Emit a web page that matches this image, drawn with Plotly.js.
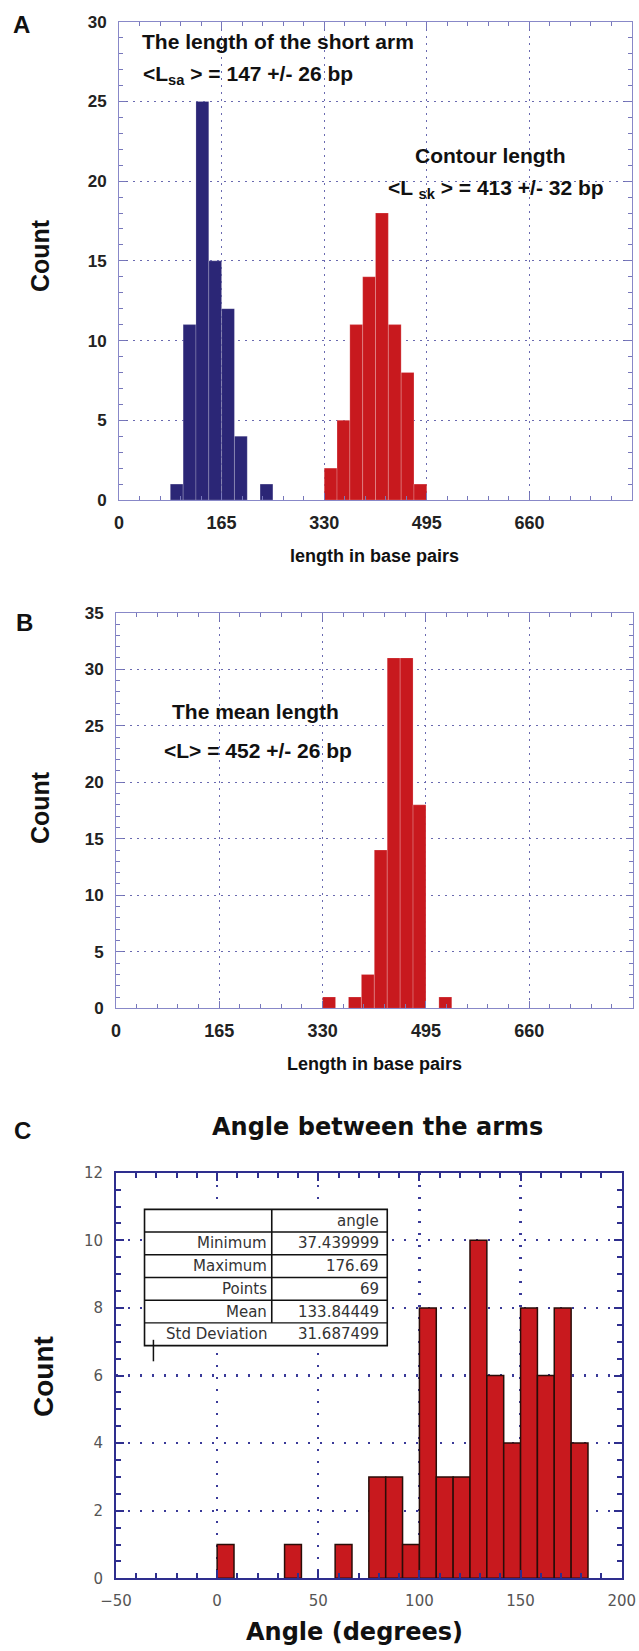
<!DOCTYPE html>
<html><head><meta charset="utf-8">
<script src="https://cdn.plot.ly/plotly-3.0.1.min.js"></script>
<style>html,body{margin:0;padding:0;background:#fff}#chart{width:639px;height:1651px}</style>
</head><body><div id="chart"></div>
<script>
// ---------- Panel A : arm lengths ----------
const binWidthLen = 20.625;
const shortArmBinStart = [82.5, 103.125, 123.75, 144.375, 165, 185.625, 226.875];
const shortArmCount    = [1, 11, 25, 15, 12, 4, 1];
const contourBinStart  = [330, 350.625, 371.25, 391.875, 412.5, 433.125, 453.75, 474.375];
const contourCount     = [2, 5, 11, 14, 18, 11, 8, 1];
// ---------- Panel B : mean length ----------
const meanLenBinStart  = [330, 371.25, 391.875, 412.5, 433.125, 453.75, 474.375, 515.625];
const meanLenCount     = [1, 1, 3, 14, 31, 31, 18, 1];
// ---------- Panel C : angle ----------
const binWidthAngle = 25 / 3;
const angleBinStart = [0, 33.333, 58.333, 75, 83.333, 91.667, 100, 108.333, 116.667, 125, 133.333, 141.667, 150, 158.333, 166.667, 175];
const angleCount    = [1, 1, 1, 3, 3, 1, 8, 3, 3, 10, 6, 4, 8, 6, 8, 4];
// ---------- ticks / table ----------
const lengthTicks = [0, 165, 330, 495, 660];
const countTicksA = [0, 5, 10, 15, 20, 25, 30];
const countTicksB = [0, 5, 10, 15, 20, 25, 30, 35];
const angleTicks  = [-50, 0, 50, 100, 150, 200];
const countTicksC = [0, 2, 4, 6, 8, 10, 12];
const statHeader = 'angle';
const statLabels = ['Minimum', 'Maximum', 'Points', 'Mean', 'Std Deviation'];
const statValues = ['37.439999', '176.69', '69', '133.84449', '31.687499'];

const W = 639, H = 1651;
const RED = '#c8191e', BLUE = '#2b2676';
const ARIAL = 'Liberation Sans, Arial, sans-serif';
const DJ = 'DejaVu Sans, Verdana, sans-serif';

const traces = [
  {type:'bar', x:shortArmBinStart, y:shortArmCount, width:binWidthLen, offset:0,
   marker:{color:BLUE, line:{color:'rgba(255,255,255,0.25)', width:0.8}}, xaxis:'x', yaxis:'y', name:'short arm'},
  {type:'bar', x:contourBinStart, y:contourCount, width:binWidthLen, offset:0,
   marker:{color:RED, line:{color:'rgba(255,255,255,0.25)', width:0.8}}, xaxis:'x', yaxis:'y', name:'contour'},
  {type:'bar', x:meanLenBinStart, y:meanLenCount, width:binWidthLen, offset:0,
   marker:{color:RED, line:{color:'rgba(255,255,255,0.25)', width:0.8}}, xaxis:'x2', yaxis:'y2', name:'mean length'},
  {type:'bar', x:angleBinStart, y:angleCount, width:binWidthAngle, offset:0,
   marker:{color:RED, line:{color:'#2a0d08', width:1.5}}, xaxis:'x3', yaxis:'y3', name:'angle'}
];

function lenAxisX(domain){
  return {domain:domain, range:[0,825], tickvals:lengthTicks, ticktext:lengthTicks.map(String),
    ticks:'inside', ticklen:7, tickwidth:1, tickcolor:'#7777bb',
    minor:{dtick:33, tick0:0, ticks:'inside', ticklen:4, tickcolor:'#7777bb', showgrid:false},
    showline:true, linecolor:'#8888c8', linewidth:1, mirror:'allticks',
    showgrid:true, gridcolor:'#6a6ab0', griddash:'2px,5px', gridwidth:1, zeroline:false,
    tickfont:{family:ARIAL, size:18, color:'#222', weight:'bold'}, ticklabelstandoff:6, fixedrange:true};
}
function countAxisY(domain, maxv, tv){
  return {domain:domain, range:[0,maxv], tickvals:tv,
    ticks:'inside', ticklen:7, tickwidth:1, tickcolor:'#7777bb',
    minor:{dtick:1, tick0:0, ticks:'inside', ticklen:4, tickcolor:'#7777bb', showgrid:false},
    showline:true, linecolor:'#8888c8', linewidth:1, mirror:'allticks',
    showgrid:true, gridcolor:'#6a6ab0', griddash:'2px,5px', gridwidth:1, zeroline:false,
    tickfont:{family:ARIAL, size:17, color:'#222', weight:'bold'}, ticklabelstandoff:8, fixedrange:true};
}

function P(x, y, extra){
  return Object.assign({x:x/W, y:1-y/H, xref:'paper', yref:'paper', showarrow:false,
    xanchor:'center', yanchor:'middle'}, extra);
}
const fb = (s, fam) => ({family:fam||ARIAL, size:s, color:'#111', weight:'bold'});

const annotations = [
  P(21, 25, {text:'A', font:fb(24)}),
  P(24, 622, {text:'B', font:fb(24)}),
  P(22, 1130, {text:'C', font:fb(24)}),
  P(278, 42, {text:'The length of the short arm', font:fb(21)}),
  P(141, 75, {text:'&lt;L<sub>sa</sub> &gt; = 147 +/- 26 bp', xanchor:'left', font:fb(21)}),
  P(490, 155, {text:'Contour length', font:fb(21)}),
  P(386, 189, {text:'&lt;L <sub>sk</sub> &gt; = 413 +/- 32 bp', xanchor:'left', font:fb(21)}),
  P(255, 711, {text:'The mean length', font:fb(21)}),
  P(258, 751, {text:'&lt;L&gt; = 452 +/- 26 bp', font:fb(21)}),
  P(40, 256, {text:'Count', textangle:-90, font:fb(25)}),
  P(40, 808, {text:'Count', textangle:-90, font:fb(25)}),
  P(43, 1377, {text:'Count', textangle:-90, font:fb(28)}),
  P(374, 556, {text:'length in base pairs', font:fb(18)}),
  P(374, 1064, {text:'Length in base pairs', font:fb(18)}),
  P(377, 1127, {text:'Angle between the arms', font:fb(24, DJ)}),
  P(354, 1632, {text:'Angle (degrees)', font:fb(24, DJ)})
];

// stats table inside panel C (axis-domain coordinates)
const tL = 0.0564, tR = 0.5364, tDiv = 0.308, tTop = 0.9097, rowH = 0.0560;
const shapes = [
  {type:'rect', xref:'x3 domain', yref:'y3 domain', x0:tL, x1:tR, y0:tTop-6*rowH, y1:tTop,
   fillcolor:'#fff', line:{color:'#111', width:1.6}},
  {type:'line', xref:'x3 domain', yref:'y3 domain', x0:tDiv, x1:tDiv, y0:tTop-5*rowH, y1:tTop,
   line:{color:'#111', width:1.6}},
  {type:'line', xref:'x3 domain', yref:'y3 domain', x0:0.074, x1:0.074, y0:0.535, y1:0.588,
   line:{color:'#111', width:1.5}}
];
for (let k = 1; k <= 5; k++) {
  shapes.push({type:'line', xref:'x3 domain', yref:'y3 domain', x0:tL, x1:tR,
    y0:tTop-k*rowH, y1:tTop-k*rowH, line:{color:'#111', width:1.4}});
}
const tf = {family:DJ, size:15, color:'#333'};
annotations.push({xref:'x3 domain', yref:'y3 domain', x:tR-0.012, y:tTop-0.5*rowH, text:statHeader,
  xanchor:'right', yanchor:'middle', showarrow:false, font:tf});
statLabels.forEach((lab, i) => {
  const yc = tTop-(i+1.5)*rowH;
  annotations.push({xref:'x3 domain', yref:'y3 domain', x:tDiv-0.005, y:yc, text:lab,
    xanchor:'right', yanchor:'middle', showarrow:false, font:tf});
  annotations.push({xref:'x3 domain', yref:'y3 domain', x:tR-0.012, y:yc, text:statValues[i],
    xanchor:'right', yanchor:'middle', showarrow:false, font:tf});
});

const layout = {
  width:W, height:H, margin:{l:0, r:0, t:0, b:0}, paper_bgcolor:'#fff', plot_bgcolor:'#fff',
  showlegend:false, bargap:0,
  xaxis: Object.assign(lenAxisX([119/W, 632/W]), {anchor:'y'}),
  yaxis: Object.assign(countAxisY([1-500/H, 1-21.7/H], 30, countTicksA), {anchor:'x'}),
  xaxis2: Object.assign(lenAxisX([116/W, 632.6/W]), {anchor:'y2'}),
  yaxis2: Object.assign(countAxisY([1-1008.3/H, 1-612.7/H], 35, countTicksB), {anchor:'x2'}),
  xaxis3: {domain:[116/W, 621.7/W], anchor:'y3', range:[-50,200], tickvals:angleTicks,
    ticks:'inside', ticklen:8, tickwidth:2, tickcolor:'#2e2e8e',
    minor:{dtick:10, tick0:0, ticks:'inside', ticklen:5, tickwidth:2, tickcolor:'#2e2e8e', showgrid:false},
    showline:true, linecolor:'#2e2e8e', linewidth:2, mirror:'allticks',
    showgrid:true, gridcolor:'#3a3a99', griddash:'2px,10px', gridwidth:2.2, zeroline:false,
    tickfont:{family:DJ, size:15, color:'#555'}, ticklabelstandoff:8, fixedrange:true},
  yaxis3: {domain:[1-1578.3/H, 1-1172.7/H], anchor:'x3', range:[0,12], tickvals:countTicksC,
    ticks:'inside', ticklen:8, tickwidth:2, tickcolor:'#2e2e8e',
    minor:{dtick:0.5, tick0:0, ticks:'inside', ticklen:5, tickwidth:2, tickcolor:'#2e2e8e', showgrid:false},
    showline:true, linecolor:'#2e2e8e', linewidth:2, mirror:'allticks',
    showgrid:true, gridcolor:'#3a3a99', griddash:'2px,10px', gridwidth:2.2, zeroline:false,
    tickfont:{family:DJ, size:15, color:'#555'}, ticklabelstandoff:8, fixedrange:true},
  annotations: annotations,
  shapes: shapes
};

Plotly.newPlot('chart', traces, layout, {displayModeBar:false, staticPlot:true});
</script></body></html>
